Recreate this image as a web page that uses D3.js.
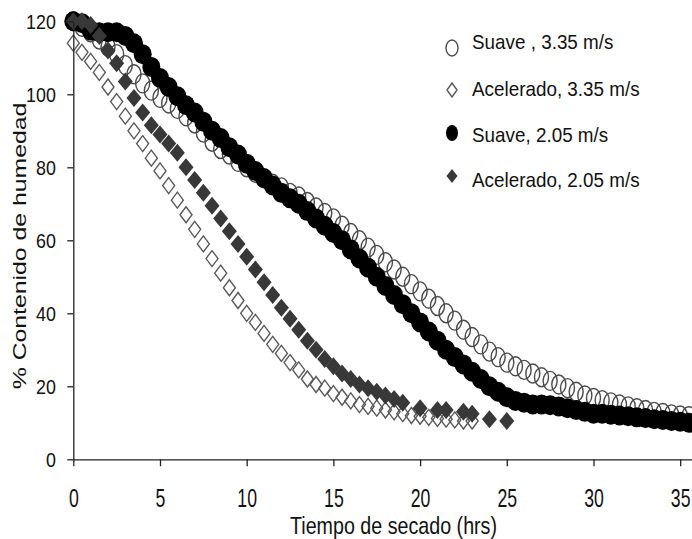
<!DOCTYPE html>
<html>
<head>
<meta charset="utf-8">
<script src="https://cdn.jsdelivr.net/npm/d3@7"></script>
<style>
  body { margin: 0; background: #fff; }
  svg { display: block; font-family: "Liberation Sans", Arial, sans-serif; }
</style>
</head>
<body>
<div id="chart"></div>
<script>
// tiempo de secado (hrs), paso de media hora
const tiempo = [
  0, 0.5, 1, 1.5, 2, 2.5, 3, 3.5, 4, 4.5,
  5, 5.5, 6, 6.5, 7, 7.5, 8, 8.5, 9, 9.5,
  10, 10.5, 11, 11.5, 12, 12.5, 13, 13.5, 14, 14.5,
  15, 15.5, 16, 16.5, 17, 17.5, 18, 18.5, 19, 19.5,
  20, 20.5, 21, 21.5, 22, 22.5, 23, 23.5, 24, 24.5,
  25, 25.5, 26, 26.5, 27, 27.5, 28, 28.5, 29, 29.5,
  30, 30.5, 31, 31.5, 32, 32.5, 33, 33.5, 34, 34.5,
  35, 35.5
];

// Suave, 3.35 m/s
const suave335 = [
  120, 118.5, 117, 115, 113, 111, 108, 105.5, 103, 101,
  99, 97.5, 96, 94, 92, 89.5, 87, 85, 83.5, 81.5,
  80, 78.5, 77, 75.5, 74.5, 73, 72, 70.5, 69, 67.5,
  66, 64, 62, 60, 58, 56, 54, 52, 50, 48,
  46, 44, 42, 40, 38, 35.5, 33.5, 31.5, 29.5, 28,
  26.5, 25.5, 24.5, 23.5, 22.5, 21.5, 20.5, 19.5, 18.5, 17.5,
  16.8, 16.2, 15.6, 15, 14.5, 14, 13.5, 13, 12.7, 12.3,
  12, 11.8
];

// Acelerado, 3.35 m/s (0 - 23 hrs)
const acelerado335 = [
  114, 111.5, 109, 106, 102, 98, 94, 90, 86.5, 82.5,
  79, 75, 71, 67, 63, 59, 55, 51, 47, 43.5,
  40, 37.5, 34.5, 31.5, 29, 26.5, 24.5, 22, 20.5, 19.5,
  18, 17, 16, 15, 14.5, 14, 13.5, 13, 12.5, 12,
  11.8, 11.5, 11.2, 11, 10.8, 10.5, 10.5
];

// Suave, 2.05 m/s
const suave205 = [
  120, 119.5, 117.5, 117, 117, 117, 116, 114, 111, 107.5,
  104.5, 102, 99.5, 97, 95, 92.5, 90, 88, 85.5, 83.5,
  81, 79, 77, 75, 73, 71.5, 70, 68, 66, 64,
  62, 60, 57.5, 55, 52.5, 50, 47.5, 45, 42.5, 40,
  37.5, 35, 32.5, 30, 28, 26, 24, 22, 20, 18.5,
  17, 16, 15.5, 15, 15, 14.8, 14.5, 14, 13.5, 13,
  12.5, 12.5, 12.2, 12, 11.8, 11.5, 11.3, 11, 10.8, 10.5,
  10.3, 10
];

// Acelerado, 2.05 m/s
const tiempoAc205 = [
  0, 0.5, 1, 1.5, 2, 2.5, 3, 3.5, 4, 4.5,
  5, 5.5, 6, 6.5, 7, 7.5, 8, 8.5, 9, 9.5,
  10, 10.5, 11, 11.5, 12, 12.5, 13, 13.5, 14, 14.5,
  15, 15.5, 16, 16.5, 17, 17.5, 18, 18.5, 19,
  20, 21, 21.5, 22.5, 23, 24, 25
];
const acelerado205 = [
  120, 120, 119, 116, 112, 108.5, 103.5, 99, 95, 91.5,
  89, 86.5, 84, 80, 76.5, 73, 69.5, 66, 62.5, 59,
  55.5, 52, 48.5, 45, 41.5, 38.5, 35.5, 32.5, 30, 27.5,
  25.5, 23.5, 22, 20.5, 19.5, 18.5, 17.5, 16.5, 15.5,
  14, 13.5, 13.5, 13, 12.5, 11, 10.5
];

const xTicks = [0, 5, 10, 15, 20, 25, 30, 35];
const yTicks = [0, 20, 40, 60, 80, 100, 120];
const leyenda = ["Suave , 3.35 m/s", "Acelerado, 3.35 m/s", "Suave, 2.05 m/s", "Acelerado, 2.05 m/s"];

const width = 692;
const height = 539;

const svg = d3.select("#chart")
  .append("svg")
  .attr("width", width)
  .attr("height", height);

// escalas (el eje x sigue hasta 40, recortado por el borde)
const x = d3.scaleLinear().domain([0, 40]).range([73.3, 766.9]);
const y = d3.scaleLinear().domain([0, 120]).range([459.3, 21.3]);

// marcadores
function diamond(w, h) {
  return "M0," + (-h) + "L" + w + ",0L0," + h + "L" + (-w) + ",0Z";
}

const series = [
  { t: tiempo, v: suave335, kind: "ellipse", rx: 7, ry: 9.5, fill: "none", stroke: "#4a4a4a", sw: 1.4 },
  { t: tiempo.slice(0, acelerado335.length), v: acelerado335, kind: "diamond", rx: 6, ry: 8, fill: "none", stroke: "#5a5a5a", sw: 1.4 },
  { t: tiempo, v: suave205, kind: "ellipse", rx: 9, ry: 10, fill: "#000", stroke: "none", sw: 0 },
  { t: tiempoAc205, v: acelerado205, kind: "diamond", rx: 7.5, ry: 9, fill: "#383838", stroke: "none", sw: 0 }
];

series.forEach(s => {
  const pts = s.v.map((v, i) => [s.t[i], v]);
  const g = svg.append("g");
  if (s.kind === "ellipse") {
    g.selectAll("ellipse")
      .data(pts)
      .enter()
      .append("ellipse")
      .attr("cx", d => x(d[0]))
      .attr("cy", d => y(d[1]))
      .attr("rx", s.rx)
      .attr("ry", s.ry)
      .attr("fill", s.fill)
      .attr("stroke", s.stroke)
      .attr("stroke-width", s.sw);
  } else {
    g.selectAll("path")
      .data(pts)
      .enter()
      .append("path")
      .attr("transform", d => "translate(" + x(d[0]) + "," + y(d[1]) + ")")
      .attr("d", diamond(s.rx, s.ry))
      .attr("fill", s.fill)
      .attr("stroke", s.stroke)
      .attr("stroke-width", s.sw);
  }
});

// eje Y
const yAxis = svg.append("g")
  .attr("transform", "translate(73.3,0)")
  .call(d3.axisLeft(y).tickValues(yTicks).tickSize(6).tickSizeOuter(0));
yAxis.select(".domain").attr("stroke", "#222").attr("stroke-width", 1.3);
yAxis.selectAll(".tick line").attr("stroke", "#222").attr("stroke-width", 1.3);
yAxis.selectAll("text")
  .attr("font-size", 21)
  .attr("fill", "#111")
  .attr("x", -17.5 / 0.85)
  .attr("transform", "scale(0.85,1)");

// eje X
const xAxis = svg.append("g")
  .attr("transform", "translate(0,459.3)")
  .call(d3.axisBottom(x).tickValues(xTicks).tickSize(7).tickSizeOuter(0));
xAxis.select(".domain").attr("stroke", "#222").attr("stroke-width", 1.3);
xAxis.selectAll(".tick line").attr("stroke", "#222").attr("stroke-width", 1.3);
xAxis.selectAll("text")
  .attr("font-size", 26)
  .attr("fill", "#111")
  .attr("y", 47.5)
  .attr("dy", null)
  .attr("transform", "scale(0.68,1)");

// títulos de ejes
svg.append("text")
  .attr("transform", "translate(393.5,533.5) scale(0.82,1)")
  .attr("text-anchor", "middle")
  .attr("font-size", 24)
  .attr("fill", "#111")
  .text("Tiempo de secado (hrs)");

svg.append("text")
  .attr("transform", "translate(26,246) rotate(-90) scale(1,0.75)")
  .attr("text-anchor", "middle")
  .attr("font-size", 24.8)
  .attr("fill", "#111")
  .text("% Contenido de humedad");

// leyenda
const legY = [48, 90, 133, 176];
const legBase = [49, 96, 142, 187];
const leg = svg.append("g");
leg.append("ellipse").attr("cx", 452).attr("cy", legY[0]).attr("rx", 6).attr("ry", 8)
  .attr("fill", "none").attr("stroke", "#4a4a4a").attr("stroke-width", 1.4);
leg.append("path").attr("transform", "translate(452," + legY[1] + ")").attr("d", diamond(5, 7))
  .attr("fill", "none").attr("stroke", "#5a5a5a").attr("stroke-width", 1.4);
leg.append("ellipse").attr("cx", 452).attr("cy", legY[2]).attr("rx", 6).attr("ry", 8)
  .attr("fill", "#000");
leg.append("path").attr("transform", "translate(452," + legY[3] + ")").attr("d", diamond(5.5, 7))
  .attr("fill", "#383838");

leg.selectAll("text.lbl")
  .data(leyenda)
  .enter()
  .append("text")
  .attr("class", "lbl")
  .attr("transform", (d, i) => "translate(472," + legBase[i] + ") scale(0.92,1)")
  .attr("font-size", 20.5)
  .attr("fill", "#111")
  .text(d => d);
</script>
</body>
</html>
